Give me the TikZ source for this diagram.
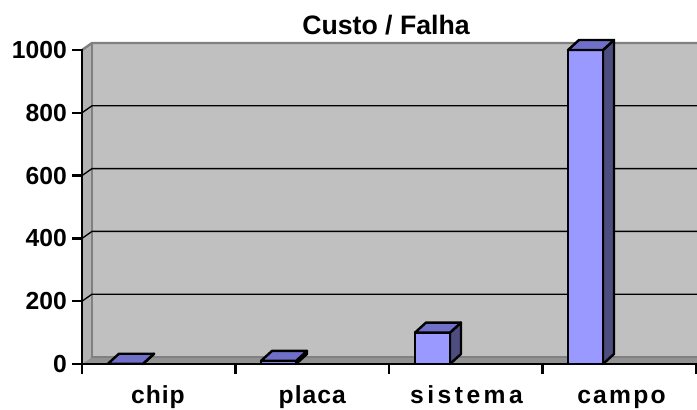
\documentclass[tikz,border=0pt]{standalone}
\usepackage{fontspec}
\setmainfont{Liberation Sans}
\usepackage{tikz}
\usetikzlibrary{calc}

\definecolor{wallgray}{HTML}{C0C0C0}
\definecolor{sidegray}{HTML}{B2B2B2}
\definecolor{floorgray}{HTML}{929292}
\definecolor{edgegray}{HTML}{808080}
\definecolor{frontblue}{HTML}{9999FF}
\definecolor{topblue}{HTML}{7070C8}
\definecolor{sideblue}{HTML}{4D4D80}

\begin{document}
\begin{tikzpicture}[x=0.75pt,y=-0.75pt,
  axis line/.style={line width=1.8pt,line cap=rect},
  grid line/.style={line width=1pt,black},
  front face/.style={fill=frontblue,draw=black,line width=1.8pt,line join=round},
  top face/.style={fill=topblue,draw=black,line width=1.8pt,line join=round},
  side face/.style={fill=sideblue,draw=black,line width=1.8pt,line join=round},
  tick label/.style={font=\bfseries\fontsize{18.5}{20}\selectfont,inner sep=0pt},
  title label/.style={font=\bfseries\fontsize{20}{22}\selectfont,inner sep=0pt}]

\useasboundingbox (0,0) rectangle (697,410);

% walls and floor
\fill[wallgray] (92,43) rectangle (697,357);
\fill[sidegray] (82,50) -- (92,43) -- (92,357) -- (82,364) -- cycle;
\fill[floorgray] (82,364) -- (92,357) -- (697,357) -- (697,364) -- cycle;
\draw[edgegray,line width=1.8pt] (82,50) -- (92,43) -- (697,43);
\draw[edgegray,line width=0.8pt] (92,43) -- (92,357) -- (697,357);

% grid lines
\draw[grid line] (82,301.2) -- (92,294.2) -- (697,294.2);
\draw[grid line] (82,238.4) -- (92,231.4) -- (697,231.4);
\draw[grid line] (82,175.6) -- (92,168.6) -- (697,168.6);
\draw[grid line] (82,112.8) -- (92,105.8) -- (697,105.8);

% chip
\draw[side face] (143,363.7) -- (154,353.7) -- (154,354) -- (143,364) -- cycle;
\draw[top face] (108,363.7) -- (119,353.7) -- (154,353.7) -- (143,363.7) -- cycle;
% placa
\draw[side face] (296,360.9) -- (307,350.9) -- (307,354) -- (296,364) -- cycle;
\draw[front face] (261,364) rectangle (296,360.9);
\draw[top face] (261,360.9) -- (272,350.9) -- (307,350.9) -- (296,360.9) -- cycle;
% sistema
\draw[side face] (450,332.6) -- (461,322.6) -- (461,354) -- (450,364) -- cycle;
\draw[front face] (415,364) rectangle (450,332.6);
\draw[top face] (415,332.6) -- (426,322.6) -- (461,322.6) -- (450,332.6) -- cycle;
% campo
\draw[side face] (603,50) -- (614,40) -- (614,354) -- (603,364) -- cycle;
\draw[front face] (568,364) rectangle (603,50);
\draw[top face] (568,50) -- (579,40) -- (614,40) -- (603,50) -- cycle;

% axes and ticks
\coordinate (origin) at (82,364);
\coordinate (ytop) at (82,50);
\coordinate (xend) at (697,364);
\draw[axis line] (ytop) -- (origin) -- (xend);
\draw[axis line] (73,364) -- (82,364);
\draw[axis line] (73,301.2) -- (82,301.2);
\draw[axis line] (73,238.4) -- (82,238.4);
\draw[axis line] (73,175.6) -- (82,175.6);
\draw[axis line] (73,112.8) -- (82,112.8);
\draw[axis line] (73,50) -- (82,50);
\draw[axis line] (82,364) -- (82,373);
\draw[axis line] (235.5,364) -- (235.5,373);
\draw[axis line] (389,364) -- (389,373);
\draw[axis line] (542.5,364) -- (542.5,373);
\draw[axis line] (696,364) -- (696,373);

% value labels
\node[tick label,anchor=east] (v0) at (67,364) {0};
\node[tick label,anchor=east] (v200) at (67,301.2) {200};
\node[tick label,anchor=east] (v400) at (67,238.4) {400};
\node[tick label,anchor=east] (v600) at (67,175.6) {600};
\node[tick label,anchor=east] (v800) at (67,112.8) {800};
\node[tick label,anchor=east] (v1000) at (67,50) {1000};

% category labels
\node[tick label,anchor=base] (chip) at (158,403) {\addfontfeature{LetterSpace=4}chip};
\node[tick label,anchor=base] (placa) at (312.25,403) {\addfontfeature{LetterSpace=4}placa};
\node[tick label,anchor=base] (sistema) at (466.5,403) {\addfontfeature{LetterSpace=14}sistema};
\node[tick label,anchor=base] (campo) at (621.5,403) {\addfontfeature{LetterSpace=9}campo};

% title
\node[title label,anchor=base] (title) at (386,35) {Custo / Falha};
\end{tikzpicture}
\end{document}
